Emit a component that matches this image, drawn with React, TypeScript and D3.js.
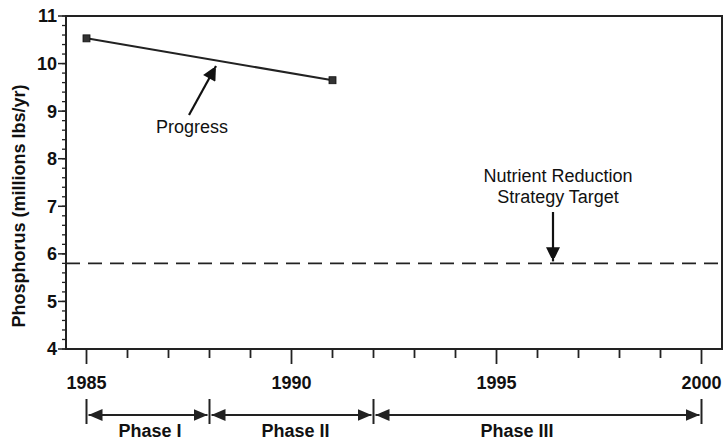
import React from "react";
import * as d3 from "d3";

const years = [1985, 1991];
const phosphorus = [10.53, 9.65];
const targetValue = 5.8;
const yTicks = [4, 5, 6, 7, 8, 9, 10, 11];
const xTicks = [1985, 1990, 1995, 2000];
const phaseBounds = [1985, 1988, 1992, 2000];
const phaseLabels = ["Phase I", "Phase II", "Phase III"];
const phaseLabelYears = [1986.55, 1990.1, 1995.5];

const W = 725, H = 442;
const left = 66, right = 722, top = 16, bottom = 349;
const FONT = "'Liberation Sans', Arial, Helvetica, sans-serif";
const FS = 18;

export default function App() {
  const x = d3.scaleLinear().domain([1984.5, 2000.5]).range([left, right]);
  const y = d3.scaleLinear().domain([4, 11]).range([bottom, top]);
  const line = d3.line<number>().x((_, i) => x(years[i])).y((d) => y(d));
  const minorY = d3.range(40, 111, 2).map((v) => v / 10);
  const minorX = d3.range(1985, 2001, 1);
  const arrowY = 415;

  return (
    <svg width={W} height={H} style={{ position: "absolute", left: 0, top: 0, background: "#fff" }} fontFamily={FONT}>
      <defs>
        <marker id="ah" viewBox="0 0 10 14" refX="14" refY="7" markerWidth="12" markerHeight="14" markerUnits="userSpaceOnUse" orient="auto-start-reverse">
          <path d="M0,0 L14,7 L0,14 z" fill="#111" />
        </marker>
        <marker id="ph" viewBox="0 0 14 12" refX="14" refY="6" markerWidth="14" markerHeight="12" markerUnits="userSpaceOnUse" orient="auto-start-reverse">
          <path d="M0,0 L14,6 L0,12 z" fill="#222" />
        </marker>
      </defs>
      {/* frame */}
      <rect x={left} y={top} width={right - left} height={bottom - top} fill="none" stroke="#222" strokeWidth={2} />
      {/* y ticks */}
      {minorY.map((v) => (
        <line key={"my" + v} x1={left - 4} x2={left} y1={y(v)} y2={y(v)} stroke="#222" strokeWidth={1.3} />
      ))}
      {yTicks.map((v) => (
        <g key={"y" + v}>
          <line x1={left - 8} x2={left} y1={y(v)} y2={y(v)} stroke="#222" strokeWidth={1.5} />
          <text x={left - 9} y={y(v)} dy="0.36em" textAnchor="end" fontSize={FS} fontWeight="bold" fill="#111">{v}</text>
        </g>
      ))}
      {/* x ticks */}
      {minorX.map((v) => (
        <line key={"mx" + v} x1={x(v)} x2={x(v)} y1={bottom} y2={bottom + (v % 5 === 0 ? 15 : 9)} stroke="#222" strokeWidth={1.8} />
      ))}
      {xTicks.map((v) => (
        <text key={"x" + v} x={x(v)} y={389} textAnchor="middle" fontSize={FS} fontWeight="bold" fill="#111">{v}</text>
      ))}
      {/* y title */}
      <text transform={`translate(25,206) rotate(-90)`} textAnchor="middle" fontSize={FS} fontWeight="bold" fill="#111">Phosphorus (millions lbs/yr)</text>
      {/* target */}
      <line x1={left} x2={right} y1={y(targetValue)} y2={y(targetValue)} stroke="#222" strokeWidth={1.8} strokeDasharray="14 8" />
      {/* progress */}
      <path d={line(phosphorus) || ""} fill="none" stroke="#222" strokeWidth={2} />
      {phosphorus.map((v, i) => (
        <rect key={"p" + i} x={x(years[i]) - 3.5} y={y(v) - 3.5} width={7} height={7} fill="#333" stroke="#111" strokeWidth={0.8} />
      ))}
      {/* annotations */}
      <line x1={189} y1={115} x2={216} y2={66} stroke="#111" strokeWidth={2.2} markerEnd="url(#ah)" />
      <text x={192} y={133} textAnchor="middle" fontSize={FS} fill="#111">Progress</text>
      <text x={558} y={182} textAnchor="middle" fontSize={FS} fill="#111">Nutrient Reduction</text>
      <text x={558} y={203} textAnchor="middle" fontSize={FS} fill="#111">Strategy Target</text>
      <line x1={553} y1={212} x2={553} y2={y(targetValue) - 2} stroke="#111" strokeWidth={2.2} markerEnd="url(#ah)" />
      {/* phases */}
      {phaseBounds.map((v) => (
        <line key={"pb" + v} x1={x(v)} x2={x(v)} y1={399} y2={424} stroke="#222" strokeWidth={2} />
      ))}
      {phaseLabels.map((lab, i) => (
        <g key={lab}>
          <line x1={x(phaseBounds[i]) + 2} x2={x(phaseBounds[i + 1]) - 2} y1={arrowY} y2={arrowY} stroke="#222" strokeWidth={1.8} markerStart="url(#ph)" markerEnd="url(#ph)" />
          <text x={x(phaseLabelYears[i])} y={437} textAnchor="middle" fontSize={FS} fontWeight="bold" fill="#111">{lab}</text>
        </g>
      ))}
    </svg>
  );
}
